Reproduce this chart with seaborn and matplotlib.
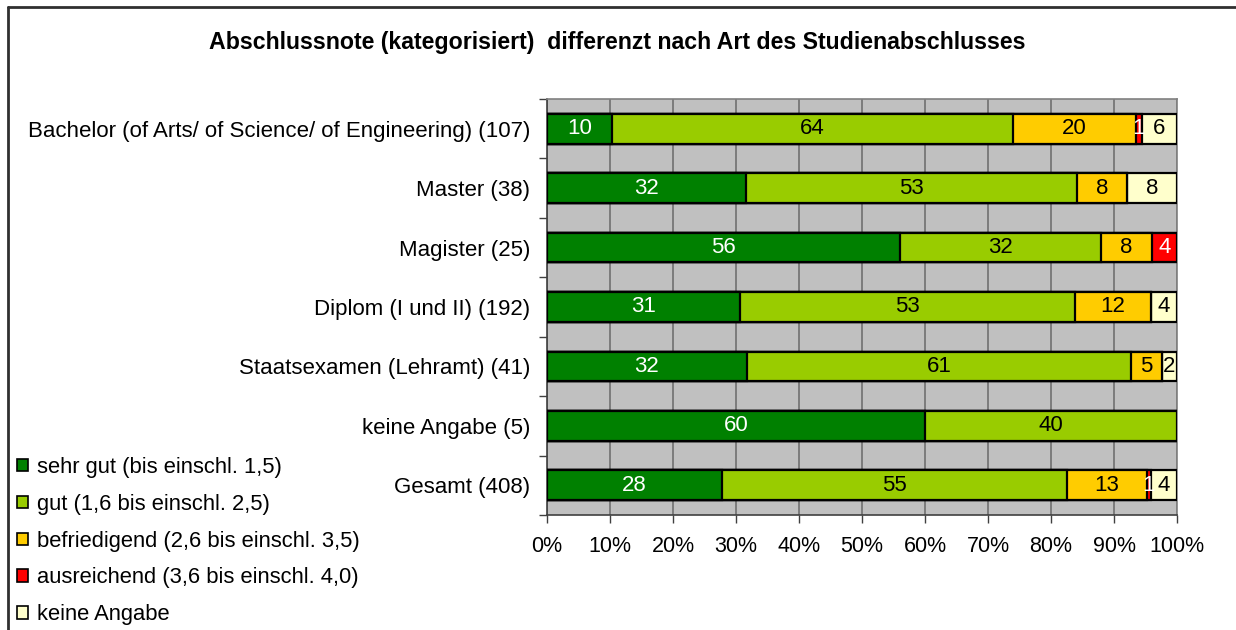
import numpy as np
import pandas as pd
import matplotlib
matplotlib.use("Agg")
import matplotlib.pyplot as plt
import seaborn as sns
from matplotlib.patches import Patch
from matplotlib.lines import Line2D
from matplotlib.ticker import FixedLocator

# ---- data (percent) ----
categories = [
    "Bachelor (of Arts/ of Science/ of Engineering) (107)",
    "Master (38)",
    "Magister (25)",
    "Diplom (I und II) (192)",
    "Staatsexamen (Lehramt) (41)",
    "keine Angabe (5)",
    "Gesamt (408)",
]
series_names = [
    "sehr gut (bis einschl. 1,5)",
    "gut (1,6 bis einschl. 2,5)",
    "befriedigend (2,6 bis einschl. 3,5)",
    "ausreichend (3,6 bis einschl. 4,0)",
    "keine Angabe",
]
sehr_gut     = [10.3, 31.6, 56.0, 30.7, 31.7, 60.0, 27.8]
gut          = [63.6, 52.6, 32.0, 53.1, 61.0, 40.0, 54.7]
befriedigend = [19.6,  7.9,  8.0, 12.0,  4.9,  0.0, 12.7]
ausreichend  = [ 0.9,  0.0,  4.0,  0.0,  0.0,  0.0,  0.6]
keine_angabe = [ 5.6,  7.9,  0.0,  4.2,  2.4,  0.0,  4.2]
x_ticks = [0, 10, 20, 30, 40, 50, 60, 70, 80, 90, 100]
x_tick_labels = ["0%", "10%", "20%", "30%", "40%", "50%", "60%", "70%", "80%", "90%", "100%"]

colors = ["#008000", "#99CC00", "#FFCC00", "#FF0000", "#FFFFCC"]
text_colors = ["white", "black", "black", "white", "black"]

series = [sehr_gut, gut, befriedigend, ausreichend, keine_angabe]
vals = np.array(series)
cum = np.cumsum(vals, axis=0)

df = pd.DataFrame({"Kategorie": categories})
for i in range(len(series)):
    df[f"cum{i}"] = cum[i]

sns.set_theme(style="white")
plt.rcParams["font.family"] = ["Liberation Sans", "DejaVu Sans"]
plt.rcParams["text.color"] = "black"
plt.rcParams["xtick.color"] = "black"
plt.rcParams["ytick.color"] = "black"

FS = 15.5

fig = plt.figure(figsize=(12.36, 6.30), dpi=100)
ax = fig.add_axes([547/1236, 1 - 515/630, 630/1236, 416/630])
ax.set_facecolor("#C0C0C0")

# draw stacked bars: cumulative totals from last to first
for i in reversed(range(len(series))):
    sns.barplot(data=df, x=f"cum{i}", y="Kategorie", order=categories,
                orient="h", color=colors[i], saturation=1, width=0.5,
                edgecolor="black", linewidth=1.6, errorbar=None, ax=ax, zorder=3)

# value labels
for i in range(len(series)):
    for j in range(len(categories)):
        v = vals[i, j]
        if v <= 0:
            continue
        center = cum[i, j] - v / 2
        ax.text(center, j, f"{v:.0f}", ha="center", va="center",
                color=text_colors[i], fontsize=16, zorder=5)

ax.set_xlim(0, 100)
ax.set_ylim(len(categories) - 0.5, -0.5)
ax.set_xlabel("")
ax.set_ylabel("")

ax.xaxis.set_major_locator(FixedLocator(x_ticks))
ax.set_xticklabels(x_tick_labels)
ax.grid(axis="x", color="#707070", linewidth=1.2, zorder=0)
ax.set_axisbelow(True)

ax.yaxis.set_minor_locator(FixedLocator(np.arange(-0.5, len(categories), 1.0)))
ax.tick_params(axis="y", which="major", length=0, pad=12, labelsize=16, colors="black")
ax.tick_params(axis="y", which="minor", length=6, width=1, color="#404040", left=True)
ax.tick_params(axis="x", which="major", length=6, width=1, color="#404040",
               bottom=True, pad=9, labelsize=FS, colors="black")

for side in ["left", "bottom"]:
    ax.spines[side].set_color("#404040")
    ax.spines[side].set_linewidth(1.2)
for side in ["top", "right"]:
    ax.spines[side].set_color("#808080")
    ax.spines[side].set_linewidth(1.2)

fig.text(617/1236, 1 - 42/630,
         "Abschlussnote (kategorisiert)  differenzt nach Art des Studienabschlusses",
         ha="center", va="center", fontsize=16.7, fontweight="bold", color="black")

handles = [Patch(facecolor=c, edgecolor="black", linewidth=1.2) for c in colors]
fig.legend(handles, series_names, loc="upper left",
           bbox_to_anchor=(17/1236, 1 - 457/630), frameon=False,
           fontsize=15.8, handlelength=0.5, handleheight=0.5,
           handletextpad=0.42, labelspacing=0.72, borderaxespad=0,
           borderpad=0)

# outer frame (top and left)
fig.add_artist(Line2D([8/1236, 1.0], [1 - 7/630, 1 - 7/630], color="#303030", linewidth=2,
                      transform=fig.transFigure))
fig.add_artist(Line2D([8/1236, 8/1236], [1 - 7/630, 0.0], color="#303030", linewidth=2,
                      transform=fig.transFigure))

fig.savefig("out.png", dpi=100)
